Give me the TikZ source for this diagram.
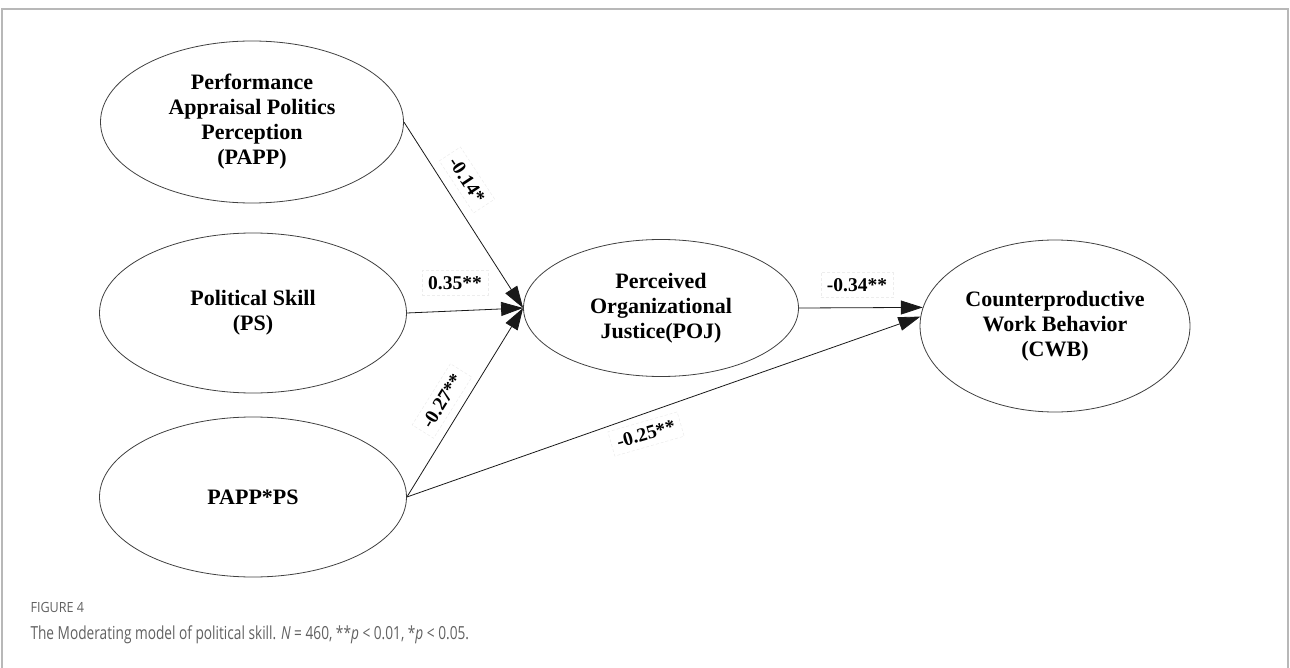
\documentclass[tikz,border=0pt]{standalone}
\usepackage{fontspec}
\setmainfont{Liberation Serif}
\newfontfamily\capfont{Open Sans}
\usetikzlibrary{arrows.meta,shapes.geometric}
\begin{document}
\begin{tikzpicture}[x=1pt,y=-1pt,
 latent/.style={ellipse,draw=black!75,line width=0.8pt,inner sep=0pt,align=center,
   font=\fontsize{22}{25}\selectfont\bfseries},
 pathline/.style={draw=black!90,line width=0.8pt,-{Triangle[length=22pt,width=14pt]}},
 coef/.style={font=\fontsize{19.5}{21}\selectfont\bfseries,draw=black!7,densely dashed,
   inner sep=6pt,line width=0.6pt},
 frameline/.style={draw=black!28,line width=1.6pt},
 captxt/.style={anchor=base west,text=black!62}]
\useasboundingbox (0,0) rectangle (1290,668);
\draw[frameline] (2,668) -- (2,9) -- (1288,9) -- (1288,668);

\node[latent,minimum width=303pt,minimum height=162pt] (papp) at (252,122)
  {Performance\\Appraisal Politics\\Perception\\(PAPP)};
\node[latent,minimum width=307pt,minimum height=160pt] (ps) at (253,313)
  {Political Skill\\(PS)};
\node[latent,minimum width=307pt,minimum height=160pt] (int) at (253,497)
  {PAPP*PS};
\node[latent,minimum width=275pt,minimum height=137pt] (poj) at (661,308)
  {Perceived\\Organizational\\Justice(POJ)};
\node[latent,minimum width=270pt,minimum height=172pt] (cwb) at (1055,326)
  {Counterproductive\\Work Behavior\\(CWB)};

\draw[pathline] (papp.east) -- (poj.west);
\draw[pathline] (ps.east) -- (poj.west);
\draw[pathline] (int.east) -- (poj.west);
\draw[pathline] (poj.east) -- (cwb.172);
\draw[pathline] (int.east) -- (cwb.176);

\node[coef,rotate=-56.7] (c1) at (467,180) {-0.14*};
\node[coef] (c2) at (455,283) {0.35**};
\node[coef,rotate=58] (c3) at (442,401) {-0.27**};
\node[coef] (c4) at (857,285) {-0.34**};
\node[coef,rotate=16] (c5) at (646,434) {-0.25**};

\node[captxt,font=\capfont\fontsize{14}{16}\selectfont] (fig) at (27,612)
  {\scalebox{0.9}[1]{FIGURE 4}};
\node[captxt,font=\capfont\fontsize{18}{20}\selectfont] (cap) at (27,639)
  {\scalebox{0.76}[1]{The Moderating model of political skill. \textit{N} = 460, **\textit{p} < 0.01, *\textit{p} < 0.05.}};
\end{tikzpicture}
\end{document}
